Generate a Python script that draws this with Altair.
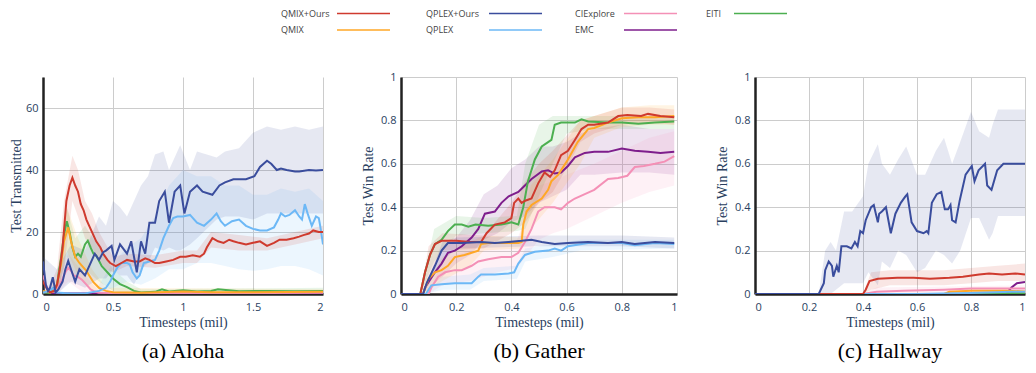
import altair as alt
import pandas as pd

SERIES = ["QMIX+Ours", "QMIX", "QPLEX+Ours", "QPLEX", "CIExplore", "EMC", "EITI"]
COLORS = ["#cf3a2e", "#ffa726", "#3a4d9d", "#6cb8f6", "#f490b6", "#7e1e8c", "#4caf50"]
DRAW_ORDER = ["EMC", "CIExplore", "EITI", "QMIX", "QPLEX", "QMIX+Ours", "QPLEX+Ours"]

# ---------------- (a) Aloha : (timesteps, value) ----------------
A_QMIX_OURS = [(0, 4), (0.03, 1.5), (0.05, 0.5), (0.08, 1), (0.1, 3), (0.12, 8), (0.14, 15), (0.167, 30),
               (0.19, 35), (0.21, 37.5), (0.23, 35), (0.25, 33), (0.27, 29), (0.29, 27), (0.31, 24),
               (0.33, 22), (0.36, 19), (0.38, 17), (0.41, 15), (0.43, 13), (0.46, 11), (0.48, 10),
               (0.52, 9), (0.56, 10), (0.6, 11), (0.65, 10.5), (0.69, 10.5), (0.73, 11.5), (0.76, 11),
               (0.8, 10), (0.83, 10), (0.88, 10.5), (0.93, 11), (0.98, 12), (1.02, 12), (1.07, 12.5),
               (1.12, 12), (1.15, 13), (1.17, 15), (1.21, 18), (1.25, 17), (1.29, 16.5), (1.33, 17.5),
               (1.36, 17), (1.4, 16.5), (1.45, 16), (1.5, 16.5), (1.55, 17), (1.6, 15.5), (1.65, 16.5),
               (1.69, 17.5), (1.74, 17.5), (1.79, 18), (1.83, 18.5), (1.86, 19), (1.9, 19.5), (1.93, 20.5),
               (1.97, 20), (2.0, 20)]
A_QMIX = [(0, 1), (0.05, 0.5), (0.08, 1), (0.1, 3), (0.13, 10), (0.15, 17), (0.18, 21.5), (0.2, 17),
          (0.23, 12), (0.26, 10), (0.31, 7.5), (0.33, 6), (0.36, 3.8), (0.4, 2), (0.45, 1), (0.5, 0.6),
          (0.7, 0.4), (1.0, 0.8), (1.2, 0.6), (1.5, 0.6), (2.0, 0.7)]
A_QPLEX_OURS = [(0, 10.5), (0.02, 3), (0.036, 1), (0.05, 2), (0.07, 5.4), (0.09, 0.5), (0.11, 1.5),
                (0.14, 4), (0.16, 8), (0.18, 10.7), (0.2, 8), (0.23, 4), (0.26, 8), (0.3, 6), (0.33, 9),
                (0.37, 13), (0.4, 11), (0.43, 13.5), (0.45, 14), (0.49, 15.5), (0.51, 11), (0.55, 16),
                (0.6, 13), (0.63, 17), (0.67, 7), (0.7, 17), (0.73, 13), (0.76, 23), (0.8, 23), (0.83, 30),
                (0.87, 33), (0.9, 23), (0.94, 33), (0.98, 35), (1.01, 26), (1.05, 33), (1.1, 35),
                (1.14, 33), (1.21, 32), (1.26, 35), (1.3, 36), (1.36, 37), (1.45, 37), (1.51, 38),
                (1.55, 41), (1.6, 43), (1.63, 42), (1.67, 40), (1.7, 40.5), (1.74, 40), (1.8, 39.5),
                (1.83, 39.5), (1.9, 40), (1.95, 39.8), (2.0, 40)]
A_QPLEX = [(0, 0.5), (0.05, 1), (0.07, 2), (0.09, 0.5), (0.15, 0.3), (0.2, 0.2), (0.3, 0.2), (0.4, 1),
           (0.45, 2), (0.48, 4), (0.5, 6), (0.53, 8.5), (0.56, 10), (0.6, 10), (0.62, 9.5), (0.64, 7),
           (0.67, 5), (0.69, 6), (0.72, 10), (0.76, 10.5), (0.8, 11), (0.83, 14), (0.86, 18), (0.9, 22),
           (0.93, 24.5), (0.96, 25), (1.0, 25), (1.05, 25.5), (1.1, 23), (1.15, 22), (1.2, 24),
           (1.24, 26), (1.27, 23.5), (1.3, 22), (1.35, 23.5), (1.4, 24), (1.45, 22), (1.5, 21),
           (1.55, 20.5), (1.6, 20.5), (1.65, 21.5), (1.68, 24), (1.7, 26), (1.73, 25), (1.76, 25.5),
           (1.8, 27), (1.83, 25), (1.85, 24), (1.87, 29), (1.89, 26), (1.92, 22), (1.95, 25),
           (1.97, 24.5), (1.98, 22), (2.0, 16)]
A_CIEXPLORE = [(0, 6), (0.02, 3), (0.05, 0.5), (0.08, 1), (0.1, 2), (0.13, 4), (0.16, 7), (0.18, 8.5),
               (0.2, 7.5), (0.22, 6), (0.25, 5.5), (0.28, 4.5), (0.31, 3), (0.34, 1.5), (0.37, 0.8),
               (0.4, 0.4), (0.5, 0.3), (1.0, 0.3), (1.5, 0.3), (2.0, 0.4)]
A_EMC = [(0, 0.2), (0.5, 0.2), (1.0, 0.3), (1.5, 0.3), (2.0, 0.3)]
A_EITI = [(0, 0.5), (0.05, 0.3), (0.1, 3), (0.13, 12), (0.15, 19), (0.17, 23.5), (0.19, 20), (0.21, 15),
          (0.23, 12), (0.25, 13), (0.27, 12), (0.3, 16), (0.32, 17.2), (0.34, 15), (0.36, 13),
          (0.38, 12.4), (0.42, 9), (0.45, 7.5), (0.5, 5), (0.55, 3.2), (0.6, 2.2), (0.65, 1), (0.7, 0.5),
          (0.8, 0.7), (0.85, 1.5), (0.9, 0.8), (1.0, 1.2), (1.1, 0.8), (1.2, 1), (1.25, 1.5), (1.4, 0.9),
          (1.6, 1), (1.8, 0.9), (2.0, 1)]

# bands: (timesteps, low, high)
A_QMIX_OURS_BAND = [(0.05, 0, 3), (0.1, 0, 8), (0.15, 8, 30), (0.21, 30, 44.6), (0.25, 25, 40),
                    (0.3, 18, 30), (0.35, 15, 26), (0.4, 11, 20), (0.45, 8, 16), (0.5, 7, 12), (0.6, 9, 13),
                    (0.8, 8.5, 12.5), (1.0, 10, 14), (1.1, 10, 14), (1.2, 15, 20), (1.4, 14, 19),
                    (1.6, 14, 18), (1.8, 16, 20), (2.0, 18, 22)]
A_QMIX_BAND = [(0.1, 0, 6), (0.17, 14, 28), (0.25, 6, 18), (0.35, 1, 8), (0.45, 0, 2), (2.0, 0, 1.5)]
A_QPLEX_OURS_BAND = [(0, 0, 12), (0.1, 0, 8), (0.2, 4, 16), (0.3, 2, 14), (0.4, 5, 25), (0.45, 5, 22),
                     (0.5, 8, 30), (0.55, 6, 28), (0.6, 6, 25), (0.65, 3, 30), (0.7, 8, 35),
                     (0.75, 10, 38), (0.8, 15, 45), (0.86, 14, 46), (0.9, 15, 40), (0.95, 14, 45),
                     (0.98, 14, 48), (1.05, 16, 40), (1.1, 18, 46), (1.24, 24, 44), (1.3, 25, 46),
                     (1.4, 25, 47), (1.5, 24, 52), (1.6, 26, 54), (1.7, 26, 53), (1.8, 26, 54),
                     (1.9, 26, 53), (2.0, 26, 54)]
A_QPLEX_BAND = [(0.4, 0, 3), (0.5, 2, 10), (0.6, 4, 15), (0.7, 3, 18), (0.8, 5, 25), (0.9, 8, 35),
                (1.0, 8, 40), (1.1, 10, 38), (1.2, 10, 38), (1.3, 9, 35), (1.4, 8, 35), (1.5, 7.5, 32),
                (1.6, 8, 32), (1.7, 9, 34), (1.8, 9, 33), (1.9, 8, 34), (2.0, 6, 30)]
A_CIEXPLORE_BAND = [(0.1, 0, 4), (0.18, 4, 13), (0.3, 0, 6), (0.4, 0, 1), (2.0, 0, 1)]
A_EMC_BAND = [(0, 0, 0.5), (2.0, 0, 0.6)]
A_EITI_BAND = [(0.1, 0, 6), (0.17, 12, 28), (0.23, 6, 18), (0.3, 8, 22), (0.4, 4, 15), (0.5, 1, 8),
               (0.6, 0, 4), (0.7, 0, 1.5), (2.0, 0, 2)]

# ---------------- (b) Gather ----------------
B_QMIX_OURS = [(0, 0), (0.07, 0), (0.087, 0.1), (0.105, 0.18), (0.123, 0.23), (0.147, 0.245), (0.2, 0.245),
               (0.25, 0.24), (0.29, 0.24), (0.31, 0.28), (0.34, 0.32), (0.376, 0.33), (0.4, 0.35),
               (0.41, 0.42), (0.425, 0.44), (0.437, 0.42), (0.45, 0.43), (0.473, 0.44), (0.497, 0.51),
               (0.52, 0.56), (0.54, 0.54), (0.557, 0.57), (0.58, 0.64), (0.605, 0.66), (0.63, 0.71),
               (0.654, 0.76), (0.678, 0.78), (0.7, 0.78), (0.75, 0.79), (0.787, 0.82), (0.82, 0.825),
               (0.87, 0.82), (0.895, 0.83), (0.94, 0.82), (0.99, 0.815)]
B_QMIX = [(0, 0), (0.08, 0), (0.1, 0.07), (0.123, 0.1), (0.147, 0.11), (0.17, 0.13), (0.195, 0.17),
          (0.23, 0.18), (0.256, 0.19), (0.28, 0.2), (0.29, 0.23), (0.316, 0.235), (0.376, 0.235),
          (0.425, 0.235), (0.437, 0.24), (0.443, 0.32), (0.455, 0.38), (0.473, 0.41), (0.51, 0.44),
          (0.533, 0.48), (0.545, 0.52), (0.57, 0.55), (0.605, 0.62), (0.64, 0.7), (0.678, 0.76),
          (0.7, 0.765), (0.75, 0.79), (0.8, 0.81), (0.86, 0.815), (0.92, 0.815), (0.99, 0.82)]
B_QPLEX_OURS = [(0, 0), (0.08, 0), (0.093, 0.05), (0.123, 0.13), (0.147, 0.2), (0.17, 0.235), (0.22, 0.235),
                (0.29, 0.24), (0.34, 0.235), (0.39, 0.24), (0.437, 0.245), (0.473, 0.25), (0.51, 0.24),
                (0.557, 0.23), (0.605, 0.235), (0.678, 0.24), (0.75, 0.235), (0.8, 0.24), (0.847, 0.23),
                (0.92, 0.24), (0.99, 0.235)]
B_QPLEX = [(0, 0), (0.09, 0), (0.11, 0.04), (0.147, 0.045), (0.195, 0.05), (0.256, 0.05), (0.28, 0.08),
           (0.29, 0.09), (0.34, 0.09), (0.39, 0.095), (0.41, 0.1), (0.425, 0.14), (0.449, 0.18),
           (0.485, 0.195), (0.533, 0.2), (0.557, 0.21), (0.58, 0.2), (0.605, 0.22), (0.678, 0.235),
           (0.75, 0.235), (0.8, 0.235), (0.847, 0.225), (0.92, 0.235), (0.99, 0.23)]
B_CIEXPLORE = [(0, 0), (0.1, 0), (0.11, 0.03), (0.135, 0.08), (0.16, 0.1), (0.195, 0.11), (0.22, 0.11),
               (0.256, 0.13), (0.28, 0.15), (0.316, 0.16), (0.364, 0.17), (0.4, 0.17), (0.425, 0.19),
               (0.449, 0.24), (0.473, 0.3), (0.497, 0.38), (0.52, 0.4), (0.557, 0.4), (0.58, 0.39),
               (0.605, 0.42), (0.63, 0.44), (0.666, 0.46), (0.7, 0.48), (0.75, 0.53), (0.787, 0.535),
               (0.82, 0.545), (0.847, 0.585), (0.88, 0.59), (0.92, 0.6), (0.955, 0.61), (0.99, 0.635)]
B_EMC = [(0, 0), (0.08, 0), (0.087, 0.03), (0.123, 0.1), (0.147, 0.14), (0.17, 0.19), (0.195, 0.2),
         (0.22, 0.22), (0.256, 0.26), (0.28, 0.3), (0.304, 0.37), (0.34, 0.38), (0.364, 0.42),
         (0.39, 0.45), (0.425, 0.47), (0.449, 0.5), (0.473, 0.53), (0.51, 0.565), (0.533, 0.57),
         (0.557, 0.555), (0.58, 0.56), (0.605, 0.59), (0.63, 0.63), (0.666, 0.65), (0.7, 0.655),
         (0.75, 0.655), (0.8, 0.67), (0.847, 0.66), (0.895, 0.655), (0.94, 0.65), (0.99, 0.655)]
B_EITI = [(0, 0), (0.07, 0), (0.087, 0.1), (0.105, 0.18), (0.123, 0.23), (0.147, 0.25), (0.17, 0.29),
          (0.195, 0.32), (0.22, 0.32), (0.244, 0.31), (0.27, 0.32), (0.316, 0.315), (0.364, 0.32),
          (0.4, 0.33), (0.425, 0.32), (0.443, 0.4), (0.46, 0.52), (0.485, 0.62), (0.51, 0.68),
          (0.533, 0.7), (0.545, 0.71), (0.557, 0.78), (0.58, 0.79), (0.63, 0.79), (0.654, 0.805),
          (0.678, 0.795), (0.75, 0.79), (0.8, 0.79), (0.86, 0.785), (0.92, 0.79), (0.99, 0.795)]

B_QMIX_OURS_BAND = [(0.07, 0, 0), (0.1, 0.08, 0.22), (0.15, 0.2, 0.28), (0.3, 0.21, 0.27), (0.4, 0.28, 0.42),
                    (0.45, 0.33, 0.52), (0.5, 0.42, 0.6), (0.55, 0.47, 0.66), (0.6, 0.58, 0.73),
                    (0.65, 0.7, 0.8), (0.7, 0.74, 0.82), (0.8, 0.78, 0.86), (0.9, 0.79, 0.86),
                    (0.99, 0.78, 0.85)]
B_QMIX_BAND = [(0.08, 0, 0), (0.15, 0.06, 0.17), (0.25, 0.13, 0.24), (0.3, 0.2, 0.27), (0.43, 0.21, 0.26),
               (0.47, 0.3, 0.5), (0.55, 0.42, 0.62), (0.65, 0.6, 0.8), (0.7, 0.72, 0.82), (0.8, 0.77, 0.86),
               (0.9, 0.78, 0.87), (0.99, 0.78, 0.87)]
B_QPLEX_OURS_BAND = [(0.08, 0, 0), (0.15, 0.15, 0.24), (0.2, 0.21, 0.26), (0.5, 0.22, 0.27),
                     (0.8, 0.22, 0.27), (0.99, 0.21, 0.26)]
B_QPLEX_BAND = [(0.09, 0, 0), (0.15, 0.02, 0.08), (0.25, 0.02, 0.09), (0.3, 0.06, 0.12), (0.42, 0.07, 0.13),
                (0.45, 0.15, 0.21), (0.55, 0.17, 0.23), (0.65, 0.2, 0.25), (0.99, 0.21, 0.25)]
B_CIEXPLORE_BAND = [(0.1, 0, 0), (0.15, 0.04, 0.16), (0.25, 0.06, 0.2), (0.35, 0.1, 0.24), (0.42, 0.12, 0.25),
                    (0.5, 0.25, 0.5), (0.55, 0.28, 0.52), (0.6, 0.3, 0.55), (0.7, 0.36, 0.6),
                    (0.8, 0.42, 0.66), (0.9, 0.47, 0.72), (0.99, 0.5, 0.75)]
B_EMC_BAND = [(0.08, 0, 0), (0.15, 0.08, 0.2), (0.2, 0.14, 0.26), (0.25, 0.18, 0.34), (0.3, 0.25, 0.46),
              (0.35, 0.28, 0.5), (0.4, 0.33, 0.58), (0.45, 0.36, 0.62), (0.5, 0.42, 0.68), (0.55, 0.45, 0.68),
              (0.6, 0.48, 0.7), (0.65, 0.55, 0.74), (0.7, 0.55, 0.76), (0.8, 0.56, 0.78), (0.9, 0.56, 0.76),
              (0.99, 0.55, 0.76)]
B_EITI_BAND = [(0.07, 0, 0), (0.12, 0.15, 0.3), (0.2, 0.27, 0.36), (0.3, 0.28, 0.35), (0.42, 0.29, 0.36),
               (0.45, 0.3, 0.6), (0.5, 0.45, 0.78), (0.55, 0.6, 0.82), (0.6, 0.74, 0.82), (0.7, 0.76, 0.82),
               (0.8, 0.76, 0.82), (0.99, 0.76, 0.82)]

# ---------------- (c) Hallway ----------------
C_QMIX_OURS = [(0, 0), (0.4, 0), (0.41, 0.02), (0.424, 0.06), (0.455, 0.07), (0.527, 0.075), (0.588, 0.075),
               (0.648, 0.07), (0.72, 0.075), (0.77, 0.08), (0.83, 0.09), (0.867, 0.095), (0.915, 0.09),
               (0.964, 0.095), (1.0, 0.09)]
C_QMIX = [(0, 0), (0.7, 0), (0.72, 0.01), (0.8, 0.015), (0.93, 0.015), (1.0, 0.012)]
C_QPLEX_OURS = [(0, 0), (0.236, 0), (0.255, 0.05), (0.26, 0.11), (0.273, 0.15), (0.285, 0.13), (0.29, 0.08),
                (0.303, 0.13), (0.31, 0.1), (0.32, 0.22), (0.34, 0.22), (0.357, 0.21), (0.37, 0.24),
                (0.38, 0.22), (0.39, 0.29), (0.4, 0.28), (0.41, 0.34), (0.43, 0.4), (0.44, 0.41),
                (0.455, 0.33), (0.46, 0.37), (0.47, 0.38), (0.485, 0.4), (0.503, 0.28), (0.52, 0.37),
                (0.54, 0.42), (0.557, 0.45), (0.564, 0.46), (0.58, 0.33), (0.6, 0.29), (0.624, 0.28),
                (0.636, 0.29), (0.642, 0.28), (0.655, 0.42), (0.673, 0.46), (0.69, 0.47), (0.703, 0.39),
                (0.715, 0.39), (0.724, 0.41), (0.73, 0.34), (0.743, 0.33), (0.758, 0.43), (0.78, 0.55),
                (0.803, 0.59), (0.813, 0.52), (0.828, 0.57), (0.852, 0.6), (0.86, 0.5), (0.876, 0.48),
                (0.897, 0.57), (0.92, 0.6), (0.964, 0.6), (1.0, 0.6)]
C_QPLEX = [(0, 0), (0.6, 0), (0.8, 0.005), (0.95, 0.01), (1.0, 0.01)]
C_CIEXPLORE = [(0, 0), (0.4, 0), (0.45, 0.01), (0.55, 0.015), (0.7, 0.02), (0.8, 0.025), (1.0, 0.025)]
C_EMC = [(0, 0), (0.93, 0), (0.95, 0.03), (0.97, 0.05), (1.0, 0.055)]
C_EITI = [(0, 0), (0.9, 0), (0.95, 0.005), (1.0, 0.005)]

C_QMIX_OURS_BAND = [(0.4, 0, 0), (0.43, 0.02, 0.1), (0.5, 0.04, 0.11), (0.6, 0.04, 0.11), (0.7, 0.04, 0.11),
                    (0.8, 0.05, 0.12), (0.9, 0.06, 0.13), (1.0, 0.06, 0.14)]
C_QPLEX_OURS_BAND = [(0.236, 0, 0), (0.26, 0, 0.2), (0.28, 0, 0.24), (0.3, 0.02, 0.2), (0.33, 0.05, 0.38),
                     (0.36, 0.05, 0.38), (0.4, 0.05, 0.45), (0.42, 0.1, 0.6), (0.455, 0.04, 0.69),
                     (0.47, 0.15, 0.6), (0.5, 0.12, 0.55), (0.53, 0.2, 0.62), (0.56, 0.18, 0.68),
                     (0.6, 0.1, 0.55), (0.63, 0.12, 0.55), (0.67, 0.2, 0.66), (0.7, 0.18, 0.72),
                     (0.73, 0.14, 0.6), (0.76, 0.2, 0.7), (0.8, 0.35, 0.84), (0.83, 0.35, 0.75),
                     (0.867, 0.25, 0.72), (0.88, 0.28, 0.78), (0.9, 0.36, 0.85), (0.95, 0.36, 0.85),
                     (1.0, 0.36, 0.85)]
C_CIEXPLORE_BAND = [(0.4, 0, 0), (0.45, 0, 0.03), (1.0, 0, 0.04)]

# ---------------- assemble ----------------
A_LINES = {"QMIX+Ours": A_QMIX_OURS, "QMIX": A_QMIX, "QPLEX+Ours": A_QPLEX_OURS, "QPLEX": A_QPLEX,
           "CIExplore": A_CIEXPLORE, "EMC": A_EMC, "EITI": A_EITI}
A_BANDS = {"QMIX+Ours": A_QMIX_OURS_BAND, "QMIX": A_QMIX_BAND, "QPLEX+Ours": A_QPLEX_OURS_BAND,
           "QPLEX": A_QPLEX_BAND, "CIExplore": A_CIEXPLORE_BAND, "EMC": A_EMC_BAND, "EITI": A_EITI_BAND}
B_LINES = {"QMIX+Ours": B_QMIX_OURS, "QMIX": B_QMIX, "QPLEX+Ours": B_QPLEX_OURS, "QPLEX": B_QPLEX,
           "CIExplore": B_CIEXPLORE, "EMC": B_EMC, "EITI": B_EITI}
B_BANDS = {"QMIX+Ours": B_QMIX_OURS_BAND, "QMIX": B_QMIX_BAND, "QPLEX+Ours": B_QPLEX_OURS_BAND,
           "QPLEX": B_QPLEX_BAND, "CIExplore": B_CIEXPLORE_BAND, "EMC": B_EMC_BAND, "EITI": B_EITI_BAND}
C_LINES = {"QMIX+Ours": C_QMIX_OURS, "QMIX": C_QMIX, "QPLEX+Ours": C_QPLEX_OURS, "QPLEX": C_QPLEX,
           "CIExplore": C_CIEXPLORE, "EMC": C_EMC, "EITI": C_EITI}
C_BANDS = {"QMIX+Ours": C_QMIX_OURS_BAND, "QPLEX+Ours": C_QPLEX_OURS_BAND, "CIExplore": C_CIEXPLORE_BAND}


def lines_df(mapping):
    rows = []
    for s in DRAW_ORDER:
        for x, y in mapping.get(s, []):
            rows.append({"series": s, "x": x, "y": y})
    return pd.DataFrame(rows)


def bands_df(mapping):
    rows = []
    for s in DRAW_ORDER:
        for x, lo, hi in mapping.get(s, []):
            rows.append({"series": s, "x": x, "lo": lo, "hi": hi})
    return pd.DataFrame(rows)


COLOR = alt.Color("series:N", scale=alt.Scale(domain=SERIES, range=COLORS), legend=None)
PLOT_H = 217


def panel(lines, bands, xdom, xvals, ydom, yvals, yfmt, ytitle, caption, width, ext, tpad):
    xaxis = alt.Axis(values=xvals, format="~g", title="Timesteps (mil)", labelPadding=7, titlePadding=3)
    yaxis = alt.Axis(values=yvals, format=yfmt, title=ytitle, minExtent=ext, maxExtent=ext,
                     titlePadding=tpad, labelPadding=5)
    xs = alt.Scale(domain=xdom, nice=False, zero=False)
    ys = alt.Scale(domain=ydom, nice=False)
    band = alt.Chart(bands_df(bands)).mark_area(opacity=0.13, clip=True).encode(
        x=alt.X("x:Q", scale=xs, axis=xaxis),
        y=alt.Y("lo:Q", scale=ys, axis=yaxis),
        y2="hi:Q",
        color=COLOR,
        detail="series:N",
    )
    line = alt.Chart(lines_df(lines)).mark_line(strokeWidth=2, clip=True).encode(
        x=alt.X("x:Q", scale=xs, axis=xaxis),
        y=alt.Y("y:Q", scale=ys, axis=yaxis),
        color=COLOR,
        detail="series:N",
    )
    return alt.layer(band, line).properties(
        width=width, height=PLOT_H,
        title=alt.TitleParams(caption, orient="bottom", anchor="middle", frame="group", offset=12),
    )


RATE_TICKS = [0, 0.2, 0.4, 0.6, 0.8, 1]
pa = panel(A_LINES, A_BANDS, [0, 2], [0, 0.5, 1, 1.5, 2], [0, 70], [0, 20, 40, 60], "d",
           "Test Transmitted", "(a) Aloha", 280, 17, 3)
pb = panel(B_LINES, B_BANDS, [0, 1], RATE_TICKS, [0, 1], RATE_TICKS, ".1~f",
           "Test Win Rate", "(b) Gather", 276, 21, 5)
pc = panel(C_LINES, C_BANDS, [0, 1], RATE_TICKS, [0, 1], RATE_TICKS, ".1~f",
           "Test Win Rate", "(c) Hallway", 270, 21, 5)

# ---------------- legend (label, then line sample) ----------------
# positions are page pixels; the legend view starts at the left edge of panel (a)'s plot area
LEG_ORIGIN = 43
LEG_W = 760
LEG_TEXT_X = [281, 426, 575, 706]
LEG_LINE_X = [337, 489, 624, 734]
LEG_LINE_LEN = 53
leg_rows = []
for i, s in enumerate(SERIES):
    c, r = i // 2, i % 2
    leg_rows.append({"series": s, "row": r, "tx": LEG_TEXT_X[c], "lx": LEG_LINE_X[c],
                     "lx2": LEG_LINE_X[c] + LEG_LINE_LEN})
leg_df = pd.DataFrame(leg_rows)
lxs = alt.Scale(domain=[LEG_ORIGIN, LEG_ORIGIN + LEG_W], range=[0, LEG_W], zero=False, nice=False)
lys = alt.Scale(domain=[0, 1], range=[4.5, 21])
leg_text = alt.Chart(leg_df).mark_text(align="left", baseline="middle", font="Open Sans", fontSize=9,
                                       color="#444444").encode(
    x=alt.X("tx:Q", scale=lxs, axis=None), y=alt.Y("row:Q", scale=lys, axis=None), text="series:N")
leg_line = alt.Chart(leg_df).mark_rule(strokeWidth=1.5).encode(
    x=alt.X("lx:Q", scale=lxs, axis=None), x2="lx2:Q", y=alt.Y("row:Q", scale=lys, axis=None), color=COLOR)
legend = alt.layer(leg_text, leg_line).properties(width=LEG_W, height=26)

chart = alt.vconcat(
    legend,
    alt.hconcat(pa, pb, pc, spacing=78, bounds="flush"),
    spacing=34,
).properties(padding=0).configure_axis(
    domainColor="#222222", domainWidth=2.5, ticks=False, gridColor="#cccccc", gridWidth=1,
    labelFont="Open Sans", labelFontSize=11, labelColor="#2a3f5f",
    titleFont="Liberation Serif", titleFontSize=14, titleColor="#2a3f5f", titleFontWeight="normal",
).configure_view(stroke="transparent").configure_title(
    font="Liberation Serif", fontSize=22, color="#000000", fontWeight="normal"
)

chart.save("out.html", embed_options={"renderer": "svg", "actions": False})
